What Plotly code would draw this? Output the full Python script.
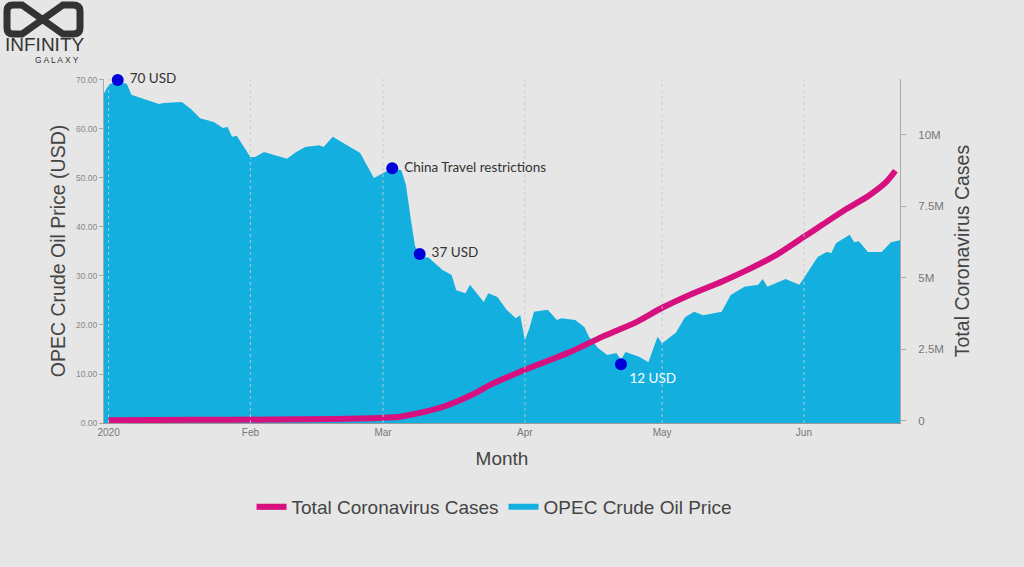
import plotly.graph_objects as go

# OPEC crude oil price (USD)
oil_dates = [
    "2019-12-31", "2020-01-01", "2020-01-02", "2020-01-03", "2020-01-05", "2020-01-06",
    "2020-01-12", "2020-01-13", "2020-01-17", "2020-01-19", "2020-01-21", "2020-01-24",
    "2020-01-26", "2020-01-27", "2020-01-28", "2020-01-29", "2020-02-01", "2020-02-02",
    "2020-02-04", "2020-02-09", "2020-02-11", "2020-02-13", "2020-02-16", "2020-02-17",
    "2020-02-19", "2020-02-22", "2020-02-25", "2020-02-28", "2020-03-01", "2020-03-03",
    "2020-03-05", "2020-03-06", "2020-03-07", "2020-03-08", "2020-03-09", "2020-03-10",
    "2020-03-11", "2020-03-14", "2020-03-16", "2020-03-17", "2020-03-19", "2020-03-20",
    "2020-03-23", "2020-03-24", "2020-03-26", "2020-03-28", "2020-03-30", "2020-03-31",
    "2020-04-01", "2020-04-02", "2020-04-03", "2020-04-06", "2020-04-08", "2020-04-09",
    "2020-04-12", "2020-04-14", "2020-04-15", "2020-04-17", "2020-04-19", "2020-04-21",
    "2020-04-22", "2020-04-23", "2020-04-26", "2020-04-28", "2020-04-30", "2020-05-01",
    "2020-05-04", "2020-05-06", "2020-05-08", "2020-05-10", "2020-05-14", "2020-05-16",
    "2020-05-19", "2020-05-22", "2020-05-23", "2020-05-24", "2020-05-28", "2020-05-31",
    "2020-06-01", "2020-06-04", "2020-06-06", "2020-06-07", "2020-06-08", "2020-06-11",
    "2020-06-12", "2020-06-13", "2020-06-15", "2020-06-18", "2020-06-20", "2020-06-22",
]
oil_price = [
    67.3, 69.0, 69.5, 69.8, 69.2, 67.0,
    65.1, 65.3, 65.5, 64.1, 62.2, 61.4,
    60.2, 60.4, 58.4, 58.6, 54.3, 54.3,
    55.3, 53.9, 55.3, 56.3, 56.7, 56.3,
    58.4, 56.7, 55.1, 50.0, 51.0, 52.0,
    51.6, 48.6, 42.0, 36.0, 34.6, 33.9,
    33.7, 31.2, 30.2, 27.1, 26.5, 28.2,
    24.7, 26.5, 25.7, 23.1, 21.4, 22.0,
    16.9, 19.4, 22.7, 23.1, 21.0, 21.4,
    21.0, 19.6, 17.6, 15.3, 13.9, 14.3,
    12.9, 14.5, 13.5, 12.4, 17.6, 16.3,
    18.4, 21.6, 22.7, 22.0, 22.7, 26.1,
    27.8, 28.2, 29.4, 27.8, 29.4, 28.2,
    29.6, 33.9, 34.9, 34.7, 36.7, 38.4,
    36.9, 37.1, 34.9, 34.9, 36.9, 37.3,
]

# Total coronavirus cases (worldwide)
case_dates = [
    "2020-01-01", "2020-01-20", "2020-02-05", "2020-02-20", "2020-03-01", "2020-03-05",
    "2020-03-10", "2020-03-14", "2020-03-17", "2020-03-21", "2020-03-24", "2020-04-01",
    "2020-04-11", "2020-04-18", "2020-04-25", "2020-05-01", "2020-05-07", "2020-05-14",
    "2020-05-20", "2020-05-26", "2020-06-01", "2020-06-05", "2020-06-10", "2020-06-15",
    "2020-06-19", "2020-06-21",
]
total_cases = [
    20000, 30000, 40000, 60000, 100000, 150000,
    310000, 480000, 660000, 950000, 1220000, 1780000,
    2410000, 2940000, 3420000, 3950000, 4400000, 4860000,
    5300000, 5800000, 6430000, 6850000, 7380000, 7850000,
    8350000, 8740000,
]

# highlighted events on the oil curve
event_dates = ["2020-01-03", "2020-03-03", "2020-03-09", "2020-04-22"]
event_price = [70, 52, 34.5, 12]
event_labels = [" 70 USD", " China Travel restrictions", " 37 USD", "12 USD"]

month_ticks = ["2020-01-01", "2020-02-01", "2020-03-01", "2020-04-01", "2020-05-01", "2020-06-01"]
month_labels = ["2020", "Feb", "Mar", "Apr", "May", "Jun"]

BLUE = "#13b0df"
PINK = "#d6107f"
BG = "#e6e6e6"

# plot area in pixels (used for the logo placement)
L, R, T, B = 104, 900, 79, 423


def px(x):
    return (x - L) / (R - L)


def py(y):
    return (B - y) / (B - T)


fig = go.Figure()

fig.add_trace(go.Scatter(
    x=oil_dates, y=oil_price,
    mode="lines", fill="tozeroy",
    line=dict(color=BLUE, width=0),
    fillcolor=BLUE,
    showlegend=False,
    hoverinfo="x+y",
))

fig.add_trace(go.Scatter(
    x=event_dates, y=event_price,
    mode="markers+text",
    marker=dict(color="#0000d8", size=12),
    text=event_labels,
    textposition=["middle right", "middle right", "middle right", "bottom right"],
    textfont=dict(family="Lato", size=13.5, color=["#333333", "#333333", "#333333", "white"]),
    cliponaxis=False,
    showlegend=False,
))

fig.add_trace(go.Scatter(
    x=case_dates, y=total_cases,
    mode="lines", yaxis="y2",
    line=dict(color=PINK, width=6, shape="spline", smoothing=0.6),
    name="Total Coronavirus Cases",
    cliponaxis=False,
))

# legend entry for the area (shown as a line swatch like the original)
fig.add_trace(go.Scatter(
    x=[None], y=[None], mode="lines",
    line=dict(color=BLUE, width=6),
    name="OPEC Crude Oil Price",
))

# dotted month gridlines drawn over the fill
for d in month_ticks:
    fig.add_shape(type="line", xref="x", yref="paper", x0=d, x1=d, y0=0, y1=1,
                  line=dict(color="rgba(200,200,200,0.85)", width=1, dash="dot"),
                  layer="above")

# logo, top left
logo = (f"M {px(22)},{py(5)} L {px(13)},{py(5)} Q {px(7)},{py(5)} {px(7)},{py(11)} "
        f"L {px(7)},{py(28)} Q {px(7)},{py(34)} {px(13)},{py(34)} L {px(22)},{py(34)} "
        f"L {px(63)},{py(5)} L {px(73)},{py(5)} Q {px(80)},{py(5)} {px(80)},{py(11)} "
        f"L {px(80)},{py(28)} Q {px(80)},{py(34)} {px(73)},{py(34)} L {px(63)},{py(34)} Z")
fig.add_shape(type="path", xref="paper", yref="paper", path=logo,
              line=dict(color="#333333", width=7), layer="above")
fig.add_annotation(xref="paper", yref="paper", x=px(44), y=py(44), text="INFINITY",
                   xanchor="center", yanchor="middle", showarrow=False,
                   font=dict(family="Liberation Sans", size=19, color="#333333"))
fig.add_annotation(xref="paper", yref="paper", x=px(57), y=py(59.5), text="G A L A X Y",
                   xanchor="center", yanchor="middle", showarrow=False,
                   font=dict(family="Liberation Sans", size=8.5, color="#333333"))

fig.update_layout(
    width=1024, height=567,
    margin=dict(l=L, r=1024 - R, t=T, b=567 - B),
    paper_bgcolor=BG, plot_bgcolor=BG,
    font=dict(family="Liberation Sans", color="#444444"),
    xaxis=dict(
        range=["2019-12-31", "2020-06-22"],
        tickvals=month_ticks, ticktext=month_labels,
        showgrid=False, showline=True, linecolor="#9a9a9a", linewidth=1,
        tickfont=dict(size=10, color="#777777"),
        title=dict(text="Month", font=dict(size=19, color="#444444"), standoff=14),
    ),
    yaxis=dict(
        range=[0, 70.2], dtick=10, tickformat=".2f",
        showgrid=False, zeroline=False,
        showline=True, linecolor="#aaaaaa", ticks="outside", ticklen=4, tickcolor="#aaaaaa",
        tickfont=dict(size=8.5, color="#888888"),
        title=dict(text="OPEC Crude Oil Price (USD)", font=dict(size=19.5, color="#444444"), standoff=5),
    ),
    yaxis2=dict(
        overlaying="y", side="right",
        range=[-80000, 11950000], dtick=2500000, tickformat="~s",
        showgrid=False, zeroline=False,
        showline=True, linecolor="#aaaaaa", ticks="outside", ticklen=5, tickcolor="#aaaaaa",
        ticklabelstandoff=10,
        tickfont=dict(size=11.5, color="#777777"),
        title=dict(text="Total Coronavirus Cases", font=dict(size=19.5, color="#444444"), standoff=12),
    ),
    legend=dict(
        orientation="h", x=0.49, xanchor="center", y=py(507), yanchor="middle",
        font=dict(size=19, color="#444444"), bgcolor="rgba(0,0,0,0)",
    ),
)

fig.write_html("out.html", config={"displayModeBar": False},
               post_script="document.body.style.margin='0';")
